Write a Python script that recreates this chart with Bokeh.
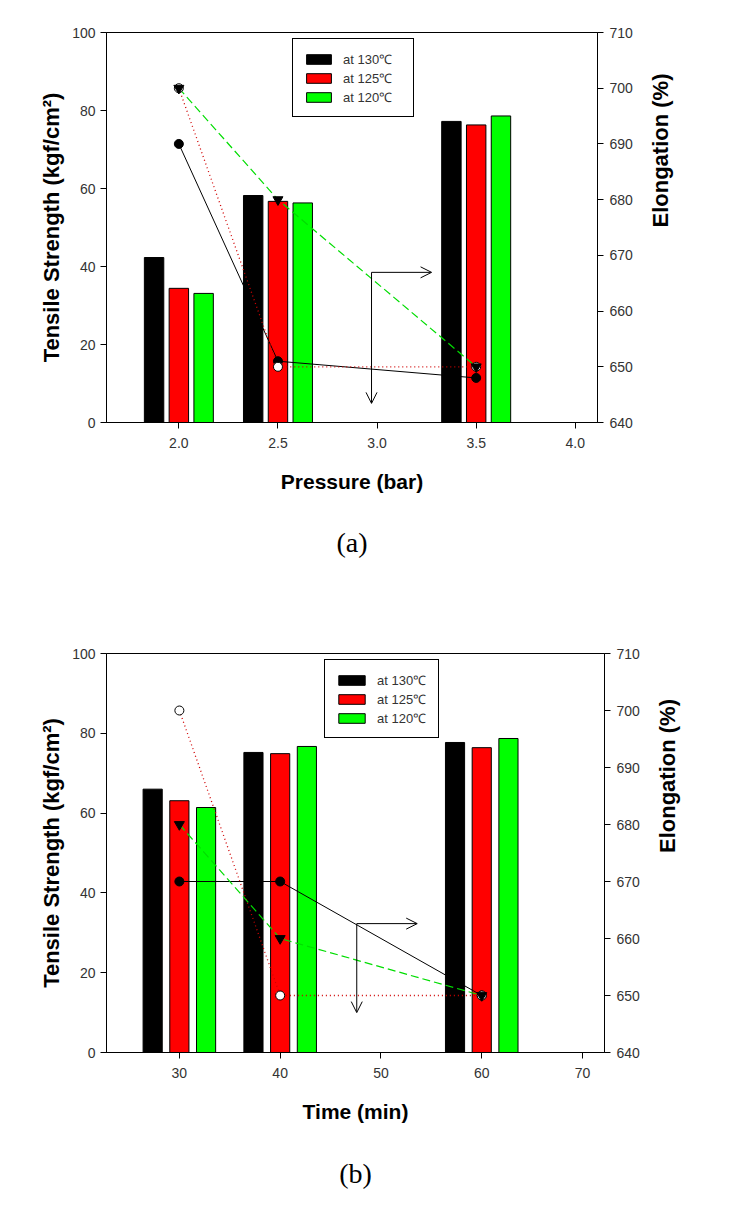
import math
from bokeh.plotting import figure
from bokeh.models import (Range1d, LinearAxis, Legend, LegendItem, Title, Arrow,
                          OpenHead, FixedTicker, ColumnDataSource,
                          PrintfTickFormatter)
from bokeh.transform import dodge
from bokeh.layouts import column, row
from bokeh.embed import file_html
from bokeh.resources import INLINE

# ---------------- data ----------------
series_labels = ["at 130\u2103", "at 125\u2103", "at 120\u2103"]

# (a) pressure series
pressure = [2.0, 2.5, 3.5]
ts_p_130 = [42.3, 58.2, 77.2]
ts_p_125 = [34.4, 56.7, 76.3]
ts_p_120 = [33.1, 56.3, 78.6]
el_p_130 = [690.0, 651.0, 648.0]
el_p_125 = [700.0, 650.0, 650.0]
el_p_120 = [700.0, 680.0, 650.0]
pressure_ticks = [2.0, 2.5, 3.0, 3.5, 4.0]

# (b) time series
time_min = [30, 40, 60]
ts_t_130 = [66.0, 75.2, 77.7]
ts_t_125 = [63.1, 74.9, 76.4]
ts_t_120 = [61.4, 76.7, 78.7]
el_t_130 = [670.0, 670.0, 650.0]
el_t_125 = [700.0, 650.0, 650.0]
el_t_120 = [680.0, 660.0, 650.0]
time_ticks = [30, 40, 50, 60, 70]

ts_ticks = [0, 20, 40, 60, 80, 100]
el_ticks = [640, 650, 660, 670, 680, 690, 700, 710]

# annotation arrows (corner x, corner y, right end x, bottom end y) in data units
arrow_a = (2.972, 38.5, 3.275, 4.9)
arrow_b = (47.6, 32.3, 53.6, 10.0)

FONT = "Liberation Sans"


def style_axis(ax):
    ax.major_tick_in = 0
    ax.major_tick_out = 6
    ax.minor_tick_line_color = None
    ax.major_label_text_font = FONT
    ax.major_label_text_font_size = "14px"
    ax.major_label_text_color = "#333333"
    ax.major_label_standoff = 5
    ax.axis_line_color = "black"
    ax.major_tick_line_color = "black"
    ax.axis_label_text_font = FONT
    ax.axis_label_text_font_style = "bold"
    ax.axis_label_text_color = "black"


def make_panel(x, ts, el, x_rng, x_ticks, x_fmt, x_label, off, bw, height,
               mb_left, mb_right, mb_top, mb_bottom, legend_loc, legend_label_w,
               glyph_w, caption, caption_standoff, arrow):
    p = figure(width=729, height=height, x_range=Range1d(*x_rng),
               y_range=Range1d(0, 100), output_backend="svg",
               toolbar_location=None, min_border_left=mb_left,
               min_border_right=mb_right, min_border_top=mb_top,
               min_border_bottom=mb_bottom)
    p.title.visible = False
    p.xgrid.visible = False
    p.ygrid.visible = False
    p.outline_line_color = "black"
    p.outline_line_alpha = 1.0
    p.background_fill_color = "white"
    p.border_fill_color = "white"
    p.extra_y_ranges = {"el": Range1d(640, 710)}

    src = ColumnDataSource(dict(x=x, t130=ts[0], t125=ts[1], t120=ts[2],
                                e130=el[0], e125=el[1], e120=el[2]))

    b1 = p.vbar(x=dodge("x", -off, range=p.x_range), top="t130", width=bw,
                source=src, fill_color="black", line_color="black")
    b2 = p.vbar(x=dodge("x", 0, range=p.x_range), top="t125", width=bw,
                source=src, fill_color="#ff0000", line_color="black")
    b3 = p.vbar(x=dodge("x", off, range=p.x_range), top="t120", width=bw,
                source=src, fill_color="#00ff00", line_color="black")

    p.line("x", "e130", source=src, y_range_name="el", line_color="black",
           line_width=1)
    p.line("x", "e125", source=src, y_range_name="el", line_color="#d00000",
           line_width=1.3, line_dash="1 3")
    p.line("x", "e120", source=src, y_range_name="el", line_color="#00dd00",
           line_width=1.2, line_dash="8 4")

    p.scatter("x", "e130", source=src, y_range_name="el", marker="circle",
              size=9, fill_color="black", line_color="black")
    p.scatter("x", "e125", source=src, y_range_name="el", marker="circle",
              size=9, fill_color="white", line_color="black")
    p.scatter("x", "e120", source=src, y_range_name="el",
              marker="inverted_triangle", size=10, fill_color="black",
              line_color="black")

    # axes
    p.xaxis.ticker = FixedTicker(ticks=x_ticks)
    if x_fmt:
        p.xaxis.formatter = PrintfTickFormatter(format=x_fmt)
    p.yaxis.ticker = FixedTicker(ticks=ts_ticks)
    p.xaxis.axis_label = x_label
    p.yaxis.axis_label = "Tensile Strength (kgf/cm\u00b2)"
    style_axis(p.xaxis[0])
    style_axis(p.yaxis[0])
    p.xaxis.major_label_standoff = 9
    p.xaxis.axis_label_text_font_size = "21px"
    p.xaxis.axis_label_standoff = 19
    p.yaxis.axis_label_text_font_size = "22px"
    p.yaxis.axis_label_standoff = 5

    right = LinearAxis(y_range_name="el", ticker=FixedTicker(ticks=el_ticks))
    style_axis(right)
    right.major_label_standoff = 6
    right.axis_label = "Elongation (%)"
    right.axis_label_text_font_size = "22px"
    right.axis_label_standoff = 25
    try:
        right.axis_label_orientation = math.pi / 2
    except Exception:
        pass
    p.add_layout(right, "right")

    p.add_layout(Title(text=caption, align="center", text_font="Liberation Serif",
                       text_font_style="normal", text_font_size="28px",
                       text_color="black", standoff=caption_standoff), "below")

    cx, cy, rx, by = arrow
    p.add_layout(Arrow(end=OpenHead(size=11, line_width=1, line_color="black"),
                       x_start=cx, y_start=cy, x_end=rx, y_end=cy,
                       line_color="black", line_width=1))
    p.add_layout(Arrow(end=OpenHead(size=11, line_width=1, line_color="black"),
                       x_start=cx, y_start=cy, x_end=cx, y_end=by,
                       line_color="black", line_width=1))

    legend = Legend(items=[LegendItem(label=series_labels[0], renderers=[b1]),
                           LegendItem(label=series_labels[1], renderers=[b2]),
                           LegendItem(label=series_labels[2], renderers=[b3])],
                    location=legend_loc, orientation="vertical",
                    glyph_width=glyph_w, glyph_height=12,
                    label_width=legend_label_w, label_height=19,
                    label_standoff=9, padding=10, spacing=0, margin=0,
                    border_line_color="black", border_line_width=1,
                    border_line_alpha=1.0, background_fill_alpha=1.0,
                    label_text_font=FONT, label_text_font_size="13px",
                    label_text_color="#333333")
    p.add_layout(legend)
    return p


p1 = make_panel(pressure, [ts_p_130, ts_p_125, ts_p_120],
                [el_p_130, el_p_125, el_p_120], (1.635, 4.112), pressure_ticks,
                "%.1f", "Pressure (bar)", 0.125, 0.098, 613, 106, 132, 32, 191,
                (186, 305), 60, 31, "(a)", 59, arrow_a)

p2 = make_panel(time_min, [ts_t_130, ts_t_125, ts_t_120],
                [el_t_130, el_t_125, el_t_120], (22.77, 72.18), time_ticks,
                None, "Time (min)", 2.65, 1.9, 614, 106, 125, 40, 175,
                (218, 314), 51, 33, "(b)", 61, arrow_b)

layout = column(row(p1), row(p2), spacing=0)
open("out.html", "w").write(file_html(layout, INLINE))
